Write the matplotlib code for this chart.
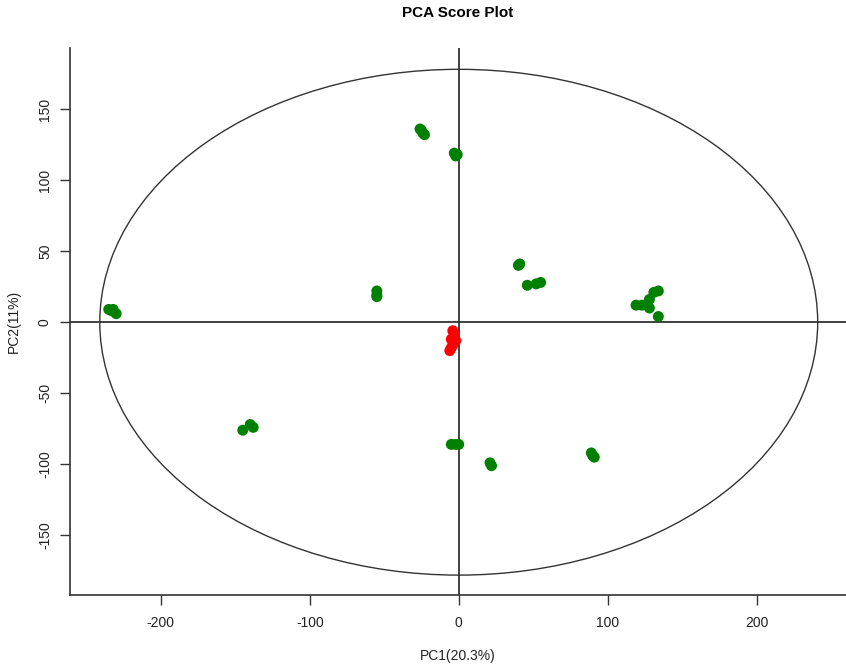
import matplotlib
matplotlib.use("Agg")
import matplotlib.pyplot as plt
from matplotlib.patches import Ellipse

plt.rcParams['font.family'] = ['Liberation Sans', 'DejaVu Sans']
plt.rcParams['axes.unicode_minus'] = False

green_pc1 = [-26, -24, -25, -23, -3, -2, -1, -235, -232, -230, -233,
             -55, -55, -55, 40, 41, 46, 52, 55,
             119, 123, 128, 131, 134, 128, 134,
             -145, -140, -138, -5, -2, 0, 21, 22, 89, 90, 91]
green_pc2 = [136, 133, 135, 132, 119, 117, 118, 9, 9, 6, 8,
             22, 19, 18, 40, 41, 26, 27, 28,
             12, 12, 16, 21, 22, 10, 4,
             -76, -72, -74, -86, -86, -86, -99, -101, -92, -94, -95]
red_pc1 = [-4, -3, -5, -3, -4, -5, -6, -2, -3]
red_pc2 = [-6, -9, -12, -14, -16, -18, -20, -13, -8]

x_ticks = [-200, -100, 0, 100, 200]
y_ticks = [-150, -100, -50, 0, 50, 100, 150]
ellipse_w, ellipse_h = 482, 356

fig = plt.figure(figsize=(8.46, 6.69), dpi=100)
ax = fig.add_axes([70/846, 74/669, 1 - 70/846, (595-48)/669])
ax.set_xlim(-261, 260)
ax.set_ylim(-192, 193)

ax.add_patch(Ellipse((0, 0), ellipse_w, ellipse_h, fill=False, ec='#333333', lw=1.0))
ax.axhline(0, color='#333333', lw=1.3)
ax.axvline(0, color='#333333', lw=1.3)

ax.scatter(green_pc1, green_pc2, s=62, color='#008000', edgecolors='none', zorder=3)
ax.scatter(red_pc1, red_pc2, s=62, color='#ff0000', edgecolors='none', zorder=3)

ax.set_xticks(x_ticks)
ax.set_xticklabels([str(v) for v in x_ticks])
ax.set_yticks(y_ticks)
ax.set_yticklabels([str(v) for v in y_ticks], rotation=90, va='center')
ax.tick_params(direction='out', length=7, width=1, labelsize=10, colors='#333333', labelcolor='#222222')
ax.tick_params(axis='x', pad=8)
ax.tick_params(axis='y', pad=6)
for s in ['top', 'right']:
    ax.spines[s].set_visible(False)
for s in ['left', 'bottom']:
    ax.spines[s].set_color('#333333')
    ax.spines[s].set_linewidth(1.2)

ax.set_xlabel('PC1(20.3%)', fontsize=10, labelpad=14, color='#222222')
ax.set_ylabel('PC2(11%)', fontsize=10, labelpad=12, color='#222222')
fig.text(0.5 + 35/846, 1 - 13/669, 'PCA Score Plot', ha='center', va='center', fontsize=11, fontweight='bold')

fig.savefig('out.png', dpi=100)
